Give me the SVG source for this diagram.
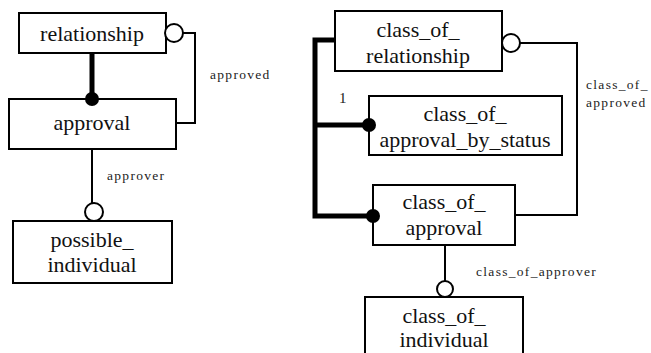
<svg xmlns="http://www.w3.org/2000/svg" width="651" height="353" viewBox="0 0 651 353">
<style>
.box{fill:#fff;stroke:#000;stroke-width:2}
.t{font-family:'Liberation Serif','DejaVu Serif',serif;font-size:22px;fill:#111;text-anchor:middle}
.l{font-family:'Liberation Serif','DejaVu Serif',serif;font-size:13.5px;letter-spacing:1.3px;fill:#222}
.thin{fill:none;stroke:#000;stroke-width:2}
.thick{fill:none;stroke:#000;stroke-width:5}
.open{fill:#fff;stroke:#000;stroke-width:2}
.dot{fill:#000}
</style>
<rect width="651" height="353" fill="#fff"/>
<g id="connectors">
<path class="thick" d="M92,53 V99"/>
<path class="thin" d="M183,33 H195 V123 H176"/>
<path class="thin" d="M92,149 V204"/>
<path class="thick" d="M335,40 H315 V216 H373 M315,125 H369"/>
<path class="thin" d="M520,43 H577 V215 H515"/>
<path class="thin" d="M445,245 V281"/>
</g>
<g id="relationship"><rect class="box" x="19" y="13" width="147" height="40"/><text class="t" x="92" y="41">relationship</text></g>
<g id="approval"><rect class="box" x="9" y="99" width="167" height="50"/><text class="t" x="92" y="130">approval</text></g>
<g id="possible_individual"><rect class="box" x="13" y="221" width="159" height="62"/><text class="t" x="92" y="247">possible_</text><text class="t" x="92" y="272">individual</text></g>
<g id="class_of_relationship"><rect class="box" x="335" y="11" width="167" height="60"/><text class="t" x="418" y="37">class_of_</text><text class="t" x="418" y="63">relationship</text></g>
<g id="class_of_approval_by_status"><rect class="box" x="369" y="96" width="193" height="59"/><text class="t" x="465" y="121">class_of_</text><text class="t" x="465" y="147">approval_by_status</text></g>
<g id="class_of_approval"><rect class="box" x="373" y="185" width="142" height="60"/><text class="t" x="444" y="209">class_of_</text><text class="t" x="444" y="235">approval</text></g>
<g id="class_of_individual"><rect class="box" x="365" y="297" width="158" height="70"/><text class="t" x="444" y="323">class_of_</text><text class="t" x="444" y="347">individual</text></g>
<g id="ends">
<circle class="open" cx="174" cy="33" r="9"/>
<circle class="dot" cx="92" cy="99" r="7"/>
<circle class="open" cx="94" cy="212" r="9"/>
<circle class="open" cx="511" cy="43" r="9"/>
<circle class="dot" cx="369" cy="125" r="7"/>
<circle class="dot" cx="373" cy="216" r="7"/>
<circle class="open" cx="445" cy="289" r="8"/>
</g>
<g id="labels">
<text class="l" x="210" y="79">approved</text>
<text class="l" x="107" y="180">approver</text>
<text class="l" x="339" y="103" style="font-size:15px">1</text>
<text class="l" x="586" y="89">class_of_</text>
<text class="l" x="586" y="107">approved</text>
<text class="l" x="476" y="276">class_of_approver</text>
</g>
</svg>
